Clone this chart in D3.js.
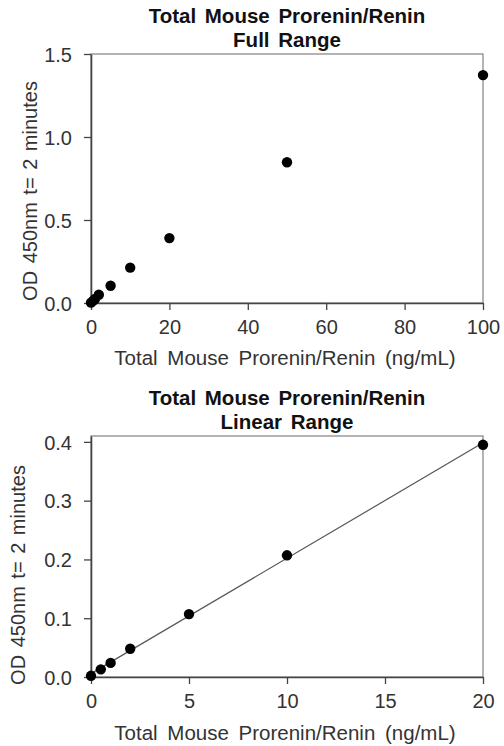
<!DOCTYPE html>
<html>
<head>
<meta charset="utf-8">
<script src="https://cdn.jsdelivr.net/npm/d3@7"></script>
<style>
  body { margin: 0; background: #fff; }
  svg text { font-family: "Liberation Sans", Arial, sans-serif; }
</style>
</head>
<body>
<div id="chart"></div>
<script>
// concentrations (ng/mL) and OD readings
const concFull = [0, 0.5, 1, 2, 5, 10, 20, 50, 100];
const odFull = [0.002, 0.013, 0.024, 0.05, 0.104, 0.213, 0.391, 0.848, 1.373];
const concLinear = [0, 0.5, 1, 2, 5, 10, 20];
const odLinear = [0.002, 0.013, 0.024, 0.048, 0.107, 0.207, 0.395];
const xTicksFull = [0, 20, 40, 60, 80, 100];
const yTicksFull = [0, 0.5, 1.0, 1.5];
const xTicksLinear = [0, 5, 10, 15, 20];
const yTicksLinear = [0, 0.1, 0.2, 0.3, 0.4];

const svg = d3.select("#chart").append("svg").attr("width", 504).attr("height", 746);

const drawPanel = (cfg) => {
    let g = svg.append("g");
    let x = d3.scaleLinear().domain(cfg.xDomain).range([cfg.left, cfg.right]);
    let y = d3.scaleLinear().domain(cfg.yDomain).range([cfg.bottom, cfg.top]);

    // frame
    g.append("rect")
        .attr("x", cfg.left).attr("y", cfg.top)
        .attr("width", cfg.right - cfg.left).attr("height", cfg.bottom - cfg.top)
        .attr("fill", "none").attr("stroke", "#8c8c8c").attr("stroke-width", 1.3);

    // axes
    let xAxis = g.append("g")
        .attr("transform", "translate(0," + cfg.bottom + ")")
        .call(d3.axisBottom(x).tickValues(cfg.xTicks).tickSize(7).tickSizeOuter(0));
    let yAxis = g.append("g")
        .attr("transform", "translate(" + cfg.left + ",0)")
        .call(d3.axisLeft(y).tickValues(cfg.yTicks).tickSize(7).tickSizeOuter(0).tickPadding(12).tickFormat(d3.format(".1f")));
    [xAxis, yAxis].forEach((a) => {
        a.select(".domain").attr("stroke", "#444").attr("stroke-width", 1.6);
        a.selectAll(".tick line").attr("stroke", "#444").attr("stroke-width", 1.3);
        a.selectAll(".tick text").attr("fill", "#333").style("font-size", "20px");
    });
    xAxis.selectAll(".tick text").attr("y", 31).attr("dy", 0);
    yAxis.selectAll(".tick text").attr("dy", "0.36em");

    // regression line
    if (cfg.fit) {
        let xs = cfg.xs, ys = cfg.ys;
        let mx = d3.mean(xs), my = d3.mean(ys);
        let slope = d3.sum(xs, (v, i) => (v - mx) * (ys[i] - my)) / d3.sum(xs, (v) => (v - mx) * (v - mx));
        let intercept = my - slope * mx;
        let x0 = d3.min(xs), x1 = d3.max(xs);
        g.append("line")
            .attr("x1", x(x0)).attr("y1", y(intercept + slope * x0))
            .attr("x2", x(x1)).attr("y2", y(intercept + slope * x1))
            .attr("stroke", "#555").attr("stroke-width", 1.2);
    }

    // points
    g.selectAll(".pt")
        .data(cfg.xs.map((v, i) => [v, cfg.ys[i]]))
        .enter()
        .append("circle")
        .attr("class", "pt")
        .attr("cx", (d) => x(d[0]))
        .attr("cy", (d) => y(d[1]))
        .attr("r", 5.2)
        .attr("fill", "#000");

    // titles
    let cx = (cfg.left + cfg.right) / 2;
    cfg.title.forEach((t, i) => {
        g.append("text")
            .attr("x", cx).attr("y", cfg.titleY + i * 24)
            .attr("text-anchor", "middle")
            .style("font-size", "20.5px").style("font-weight", "bold")
            .style("word-spacing", "3px")
            .attr("fill", "#111")
            .text(t);
    });
    g.append("text")
        .attr("x", cx - 2).attr("y", cfg.xLabelY)
        .attr("text-anchor", "middle")
        .style("font-size", "20.5px").style("word-spacing", "4px")
        .attr("fill", "#333")
        .text("Total Mouse Prorenin/Renin (ng/mL)");
    g.append("text")
        .attr("transform", "translate(" + cfg.yLabelX + "," + cfg.yLabelCenter + ") rotate(-90)")
        .attr("text-anchor", "middle")
        .style("font-size", "20px").style("word-spacing", "2px")
        .attr("fill", "#333")
        .text("OD 450nm t= 2 minutes");
};

drawPanel({
    xs: concFull, ys: odFull, fit: false,
    xDomain: [0, 100], yDomain: [0, 1.5],
    xTicks: xTicksFull, yTicks: yTicksFull,
    left: 91, right: 483, top: 54, bottom: 303,
    title: ["Total Mouse Prorenin/Renin", "Full Range"], titleY: 23,
    xLabelY: 365, yLabelX: 37, yLabelCenter: 191
});

drawPanel({
    xs: concLinear, ys: odLinear, fit: true,
    xDomain: [0, 20], yDomain: [0, 0.41],
    xTicks: xTicksLinear, yTicks: yTicksLinear,
    left: 91, right: 483, top: 436, bottom: 677,
    title: ["Total Mouse Prorenin/Renin", "Linear Range"], titleY: 405,
    xLabelY: 740, yLabelX: 25, yLabelCenter: 575
});
</script>
</body>
</html>
